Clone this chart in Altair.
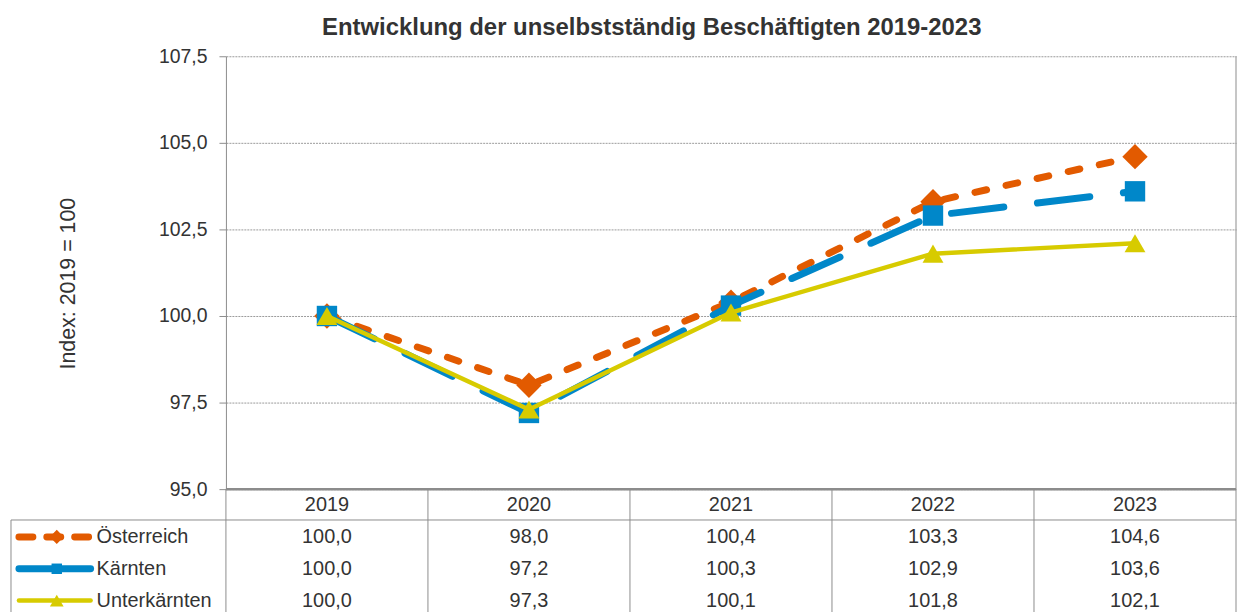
import altair as alt
import pandas as pd

years = ["2019", "2020", "2021", "2022", "2023"]
series_names = ["Österreich", "Kärnten", "Unterkärnten"]
oesterreich = [100.0, 98.0, 100.4, 103.3, 104.6]
kaernten = [100.0, 97.2, 100.3, 102.9, 103.6]
unterkaernten = [100.0, 97.3, 100.1, 101.8, 102.1]
y_ticks = [95.0, 97.5, 100.0, 102.5, 105.0, 107.5]

title_text = "Entwicklung der unselbstständig Beschäftigten 2019-2023"
y_title = "Index: 2019 = 100"

series_values = {"Österreich": oesterreich, "Kärnten": kaernten, "Unterkärnten": unterkaernten}
styles = {
    "Österreich": dict(color="#E25A00", width=7, dash=[12, 20], shape="diamond", size=650,
                       key_dash=[14, 14], key_size=200),
    "Kärnten": dict(color="#0087C9", width=7, dash=[53, 34], shape="square", size=420,
                    key_dash=None, key_size=110),
    "Unterkärnten": dict(color="#D7CB00", width=4.5, dash=None, shape="triangle-up", size=440,
                         key_dash=None, key_size=190),
}

rows = []
for s in series_names:
    for y, v in zip(years, series_values[s]):
        rows.append({"series": s, "year": y, "value": v})
df = pd.DataFrame(rows)

W, H = 1015, 435
ROW_H = 32
TAB_H = ROW_H * 4
FONT = "Liberation Sans"
TXT = "#333333"
AX = "#8c8c8c"

x_enc = alt.X("year:N", sort=years,
              scale=alt.Scale(type="point", domain=years, padding=0.5),
              axis=None)
y_enc = alt.Y("value:Q",
              scale=alt.Scale(domain=[95, 107.5], nice=False, zero=False),
              axis=alt.Axis(values=y_ticks,
                            labelExpr="replace(format(datum.value, '.1f'), '.', ',')",
                            grid=True, gridColor="#9a9a9a", gridDash=[2, 1], gridWidth=1,
                            tickColor=AX, tickSize=7, domainColor=AX, domainWidth=1,
                            labelFontSize=19.5, labelColor=TXT, labelFont=FONT, labelPadding=12,
                            title=y_title, titleFontSize=21.5, titleFontWeight="normal",
                            titleColor=TXT, titleFont=FONT, titleX=-158, titleY=228,
                            titleAngle=270, titleAlign="center", titleBaseline="middle"))

layers = []
for s in series_names:
    st = styles[s]
    sub = alt.Chart(df).transform_filter(alt.datum.series == s)
    line_kw = dict(color=st["color"], strokeWidth=st["width"], strokeCap="round", strokeJoin="round")
    if st["dash"]:
        line_kw["strokeDash"] = st["dash"]
    layers.append(sub.mark_line(**line_kw).encode(x=x_enc, y=y_enc))
    layers.append(sub.mark_point(shape=st["shape"], size=st["size"], filled=True, opacity=1,
                                 color=st["color"]).encode(x=x_enc, y=y_enc))

one = alt.Data(values=[{}])
border = alt.Chart(one).mark_rule(color=AX, strokeWidth=1).encode(
    x=alt.value(W), y=alt.value(0), y2=alt.value(H))
bottom_line = alt.Chart(one).mark_rule(color=AX, strokeWidth=2.5).encode(
    x=alt.value(0), x2=alt.value(W), y=alt.value(H))

top = alt.layer(*layers, border, bottom_line).properties(width=W, height=H)

# ---- data table ----
row_order = ["Jahr"] + series_names
trows = []
for y in years:
    trows.append({"row": "Jahr", "year": y, "label": y})
for s in series_names:
    for y, v in zip(years, series_values[s]):
        trows.append({"row": s, "year": y, "label": f"{v:.1f}".replace(".", ",")})
tdf = pd.DataFrame(trows)

tx = alt.X("year:N", sort=years, scale=alt.Scale(domain=years, paddingInner=0, paddingOuter=0), axis=None)
ty = alt.Y("row:N", sort=row_order, scale=alt.Scale(domain=row_order, paddingInner=0, paddingOuter=0), axis=None)

cells = alt.Chart(tdf).mark_text(fontSize=20, font=FONT, color=TXT, align="center",
                                 baseline="middle").encode(x=tx, y=ty, text="label:N")

vlines = alt.Chart(pd.DataFrame({"year": years})).mark_rule(color=AX, strokeWidth=1).encode(
    x=alt.X("year:N", sort=years, scale=alt.Scale(domain=years, paddingInner=0, paddingOuter=0),
            axis=None, bandPosition=0),
    y=alt.value(0), y2=alt.value(TAB_H))
right_line = alt.Chart(one).mark_rule(color=AX, strokeWidth=1).encode(
    x=alt.value(W), y=alt.value(0), y2=alt.value(TAB_H))
hline = alt.Chart(one).mark_rule(color=AX, strokeWidth=1).encode(
    x=alt.value(-216), x2=alt.value(W), y=alt.value(ROW_H - 1))
left_box = alt.Chart(one).mark_rule(color=AX, strokeWidth=1).encode(
    x=alt.value(-216), y=alt.value(ROW_H - 1), y2=alt.value(TAB_H))

key_layers = []
for s in series_names:
    st = styles[s]
    kd = pd.DataFrame({"row": [s]})
    rk = dict(color=st["color"], strokeWidth=st["width"], strokeCap="round")
    if st["key_dash"]:
        rk["strokeDash"] = st["key_dash"]
    key_layers.append(alt.Chart(kd).mark_rule(**rk).encode(
        x=alt.value(-208), x2=alt.value(-136), y=ty))
    key_layers.append(alt.Chart(kd).mark_point(shape=st["shape"], size=st["key_size"], filled=True,
                                               opacity=1, color=st["color"]).encode(
        x=alt.value(-170), y=ty))

names = alt.Chart(pd.DataFrame({"row": series_names})).mark_text(
    fontSize=20, font=FONT, color=TXT, align="left", baseline="middle").encode(
    x=alt.value(-130), y=ty, text="row:N")

table = alt.layer(vlines, right_line, hline, left_box, *key_layers, names, cells).properties(
    width=W, height=TAB_H)

chart = alt.vconcat(top, table, spacing=0, bounds="flush").properties(
    title=alt.TitleParams(title_text, fontSize=24, fontWeight="bold", color=TXT, font=FONT,
                          anchor="middle", frame="bounds", dx=28, offset=6),
    padding={"left": 2, "top": 7, "right": 0, "bottom": 0},
).configure_view(stroke=None)

chart.save("out.html", embed_options={"renderer": "svg", "actions": False})
